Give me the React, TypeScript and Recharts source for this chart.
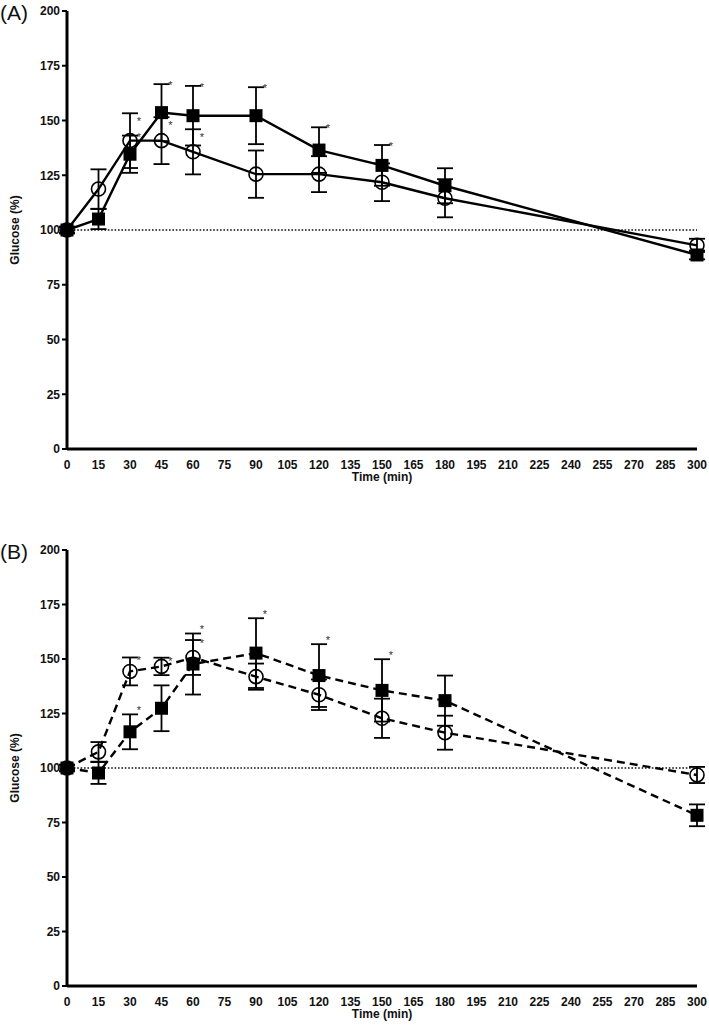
import React from "react";
import {
  ComposedChart, Line, Scatter, XAxis, YAxis, ErrorBar, ReferenceLine, Label,
} from "recharts";

const FONT = '"Liberation Sans Narrow", "Liberation Sans", Arial, sans-serif';

// sampling times (min)
const times = [0, 15, 30, 45, 60, 90, 120, 150, 180, 300];
const xTicks = [0, 15, 30, 45, 60, 75, 90, 105, 120, 135, 150, 165, 180, 195, 210, 225, 240, 255, 270, 285, 300];
const yTicks = [0, 25, 50, 75, 100, 125, 150, 175, 200];

// panel A (solid)
const aSquareMean = [100, 105, 134.6, 153.6, 152.2, 152.2, 136.5, 129.5, 120.2, 88.6];
const aSquareSd = [1.5, 4.6, 8.5, 13, 13.6, 13, 10.4, 9.3, 8, 2];
const aCircleMean = [100, 118.7, 140.8, 140.8, 135.7, 125.5, 125.5, 121.8, 114.5, 93];
const aCircleSd = [1.5, 9, 12.5, 10.7, 10.3, 10.8, 8.2, 8.6, 8.7, 3];
const aSquareStar = [0, 0, 1, 1, 1, 1, 1, 1, 0, 0];
const aCircleStar = [0, 0, 1, 1, 1, 0, 0, 0, 0, 0];

// panel B (dashed)
const bSquareMean = [100, 97.7, 116.6, 127.4, 147.7, 152.7, 142.4, 135.6, 130.9, 78.3];
const bSquareSd = [1.5, 5, 8, 10.5, 14, 16, 14.4, 14.3, 11.5, 5];
const bCircleMean = [100, 107.4, 144.3, 146.6, 150.7, 141.9, 133.6, 122.8, 116.2, 96.8];
const bCircleSd = [1.5, 4.5, 6.4, 4, 8, 6, 7, 9, 7.8, 3.7];
const bSquareStar = [0, 0, 1, 0, 1, 1, 1, 1, 0, 0];
const bCircleStar = [0, 0, 1, 1, 1, 0, 0, 0, 0, 0];

function SquareDot({ cx, cy }: any) {
  if (cx == null || cy == null) return null;
  return <rect x={cx - 6.5} y={cy - 6.5} width={13} height={13} fill="#000" />;
}

function CircleDot({ cx, cy }: any) {
  if (cx == null || cy == null) return null;
  return <circle cx={cx} cy={cy} r={7} fill="none" stroke="#000" strokeWidth={1.6} />;
}

function Star({ cx, cy, payload }: any) {
  if (cx == null || cy == null) return null;
  const shift = payload?.shift ?? 0;
  return (
    <text x={cx + 9} y={cy + 5 + shift} fontSize={11} textAnchor="middle" fill="#333" fontFamily="Arial, 'Liberation Sans', sans-serif">*</text>
  );
}

type PanelProps = {
  letter: string;
  sqMean: number[];
  sqSd: number[];
  ciMean: number[];
  ciSd: number[];
  sqStar: number[];
  ciStar: number[];
  dashed: boolean;
  height: number;
  sqShift: number;
  ciShift: number;
};

function Panel({ letter, sqMean, sqSd, ciMean, ciSd, sqStar, ciStar, dashed, height, sqShift, ciShift }: PanelProps) {
  const data = times.map((t, i) => ({
    t,
    sq: sqMean[i],
    sqErr: sqSd[i],
    ci: ciMean[i],
    ciErr: ciSd[i],
  }));
  const stars = [
    ...times.map((t, i) => ({ t, y: sqMean[i] + sqSd[i], on: sqStar[i], shift: sqShift })),
    ...times.map((t, i) => ({ t, y: ciMean[i] + ciSd[i], on: ciStar[i], shift: ciShift })),
  ].filter((s) => s.on);
  const dash = dashed ? "8 5" : undefined;
  const tickStyle = { fontSize: 12, fontWeight: 700, fill: "#111", fontFamily: FONT };

  return (
    <div style={{ position: "relative", width: 709, height }}>
      <div style={{ position: "absolute", left: 0, top: 1, fontFamily: "Arial, 'Liberation Sans', sans-serif", fontSize: 21, color: "#111" }}>
        ({letter})
      </div>
      <ComposedChart width={709} height={height} data={data} margin={{ top: 11, right: 12, left: 0, bottom: 0 }}>
        <XAxis
          dataKey="t"
          type="number"
          domain={[0, 300]}
          ticks={xTicks}
          interval={0}
          axisLine={{ stroke: "#000", strokeWidth: 3 }}
          tickLine={false}
          tickMargin={5}
          tick={tickStyle}
          height={51}
        >
          <Label value="Time (min)" position="insideBottom" offset={19}
            style={{ fontSize: 12, fontWeight: 700, fill: "#111", fontFamily: FONT }} />
        </XAxis>
        <YAxis
          type="number"
          domain={[0, 200]}
          ticks={yTicks}
          interval={0}
          width={67}
          axisLine={{ stroke: "#000", strokeWidth: 3 }}
          tickLine={{ stroke: "#000", strokeWidth: 2 }}
          tickSize={5}
          tick={tickStyle}
        >
          <Label value="Glucose (%)" angle={-90} position="insideLeft" offset={15}
            style={{ fontSize: 12, fontWeight: 700, fill: "#111", fontFamily: FONT, textAnchor: "middle" }} />
        </YAxis>
        <ReferenceLine y={100} stroke="#111" strokeWidth={1.6} strokeDasharray="1.6 1.8" />
        <Line
          dataKey="ci"
          stroke="#000"
          strokeWidth={2.4}
          strokeDasharray={dash}
          dot={<CircleDot />}
          activeDot={false}
          isAnimationActive={false}
        >
          <ErrorBar dataKey="ciErr" width={8} strokeWidth={1.8} stroke="#000" direction="y" />
        </Line>
        <Line
          dataKey="sq"
          stroke="#000"
          strokeWidth={2.4}
          strokeDasharray={dash}
          dot={<SquareDot />}
          activeDot={false}
          isAnimationActive={false}
        >
          <ErrorBar dataKey="sqErr" width={8} strokeWidth={1.8} stroke="#000" direction="y" />
        </Line>
        <Scatter data={stars} dataKey="y" shape={<Star />} isAnimationActive={false} />
      </ComposedChart>
    </div>
  );
}

export default function App() {
  return (
    <div style={{ position: "absolute", left: 0, top: 0, width: 709, height: 1027, background: "#fff" }}>
      <Panel letter="A" sqMean={aSquareMean} sqSd={aSquareSd} ciMean={aCircleMean} ciSd={aCircleSd}
        sqStar={aSquareStar} ciStar={aCircleStar} dashed={false} height={500} sqShift={0} ciShift={7} />
      <div style={{ height: 39 }} />
      <Panel letter="B" sqMean={bSquareMean} sqSd={bSquareSd} ciMean={bCircleMean} ciSd={bCircleSd}
        sqStar={bSquareStar} ciStar={bCircleStar} dashed={true} height={498} sqShift={-5} ciShift={2} />
    </div>
  );
}
